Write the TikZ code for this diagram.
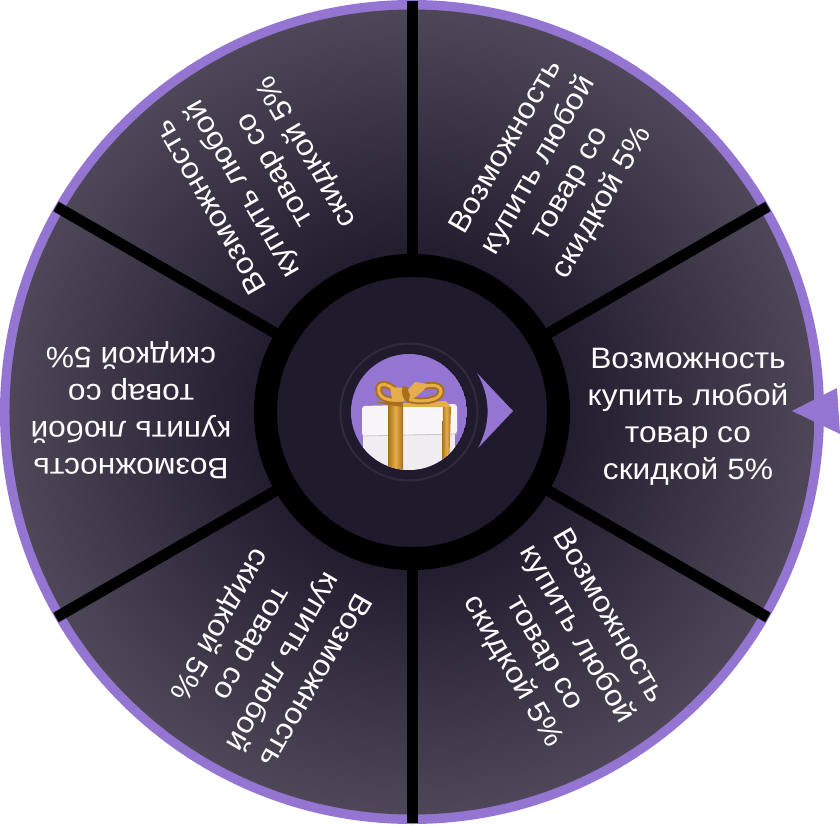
\documentclass[tikz,border=0pt]{standalone}
\usepackage{fontspec}
\usepackage{xcolor}
\setmainfont[FakeStretch=1.075]{Liberation Sans}
\definecolor{wheelpurple}{HTML}{9575D2}
\definecolor{wheeldark}{HTML}{1F1A2C}
\definecolor{wheelrim}{HTML}{4E4758}
\definecolor{hubring}{HTML}{2F2B3C}
\definecolor{giftwhite}{HTML}{F8F6F8}
\definecolor{giftside}{HTML}{EFEDF0}
\definecolor{giftseam}{HTML}{C9C5CC}
\definecolor{golddark}{HTML}{A96F1A}
\definecolor{goldlight}{HTML}{E5AE4A}
\pgfdeclareradialshading{wheelshade}{\pgfpoint{0bp}{0bp}}{color(0bp)=(wheeldark); color(9bp)=(wheeldark); color(25bp)=(wheelrim); color(50bp)=(wheelrim)}
\tikzset{
  sectortext/.style={text=white, align=center, inner sep=0pt, font=\fontsize{29.5}{37}\selectfont},
  spoke/.style={draw=black, line width=11pt},
  ribbon/.style={left color=golddark, right color=golddark, middle color=goldlight, draw=none},
  bowdark/.style={draw=golddark, line width=7pt},
  bowlight/.style={draw=goldlight, line width=3pt}
}

\begin{document}
\begin{tikzpicture}[x=1pt, y=1pt]
  \useasboundingbox (-412, -412) rectangle (428, 412);
  \fill [wheelpurple] (0, 0) circle (412);
  \shade [shading=wheelshade] (0, 0) circle (402.5);
  \coordinate (hub) at (0, 0);
  \foreach \ang in {30, 90, 150, 210, 270, 330} {
    \coordinate (rim\ang) at (\ang:411);
    \draw [spoke] (hub) -- (rim\ang);
  }
  \draw [black, line width=23pt, fill=wheeldark] (hub) circle (146.5);
  \foreach \ang/\xpos/\ypos in {0/276/-5, 60/143/237, 120/-152/233, 180/-281/2, 240/-146/-240, 300/148/-232} {
    \node [sectortext, rotate=\ang] (label\ang) at (\xpos, \ypos)
      {Возможность\\купить любой\\товар со\\скидкой 5\%};
  }
  \draw [hubring, line width=2pt] (-3, 0) circle (68.5);
  \begin{scope}
    \clip (-3, 0) circle (58);
    \fill [wheelpurple] (-3, 0) circle (58);
    \fill [giftside] (-49, -20) rectangle (43, -60);
    \fill [giftwhite, rounded corners=3pt] (-50, 6) -- (-9, 7) -- (45, 8) -- (45, -22) -- (-50, -24) -- cycle;
    \draw [giftseam, line width=.8pt] (-50, -24) -- (45, -22);
    \shade [ribbon] (-24, 7) -- (-9, 7) -- (-9, -60) -- (-24, -60) -- cycle;
    \shade [ribbon] (31, 8) -- (39, 5) -- (37, -60) -- (30, -60) -- cycle;
    \fill [golddark] (-37, 10) -- (-9, 9) -- (-9, 5) -- (-24, 7) -- cycle;
    \fill [goldlight] (-9, 9) -- (34, 11) -- (39, 5) -- (-9, 5) -- cycle;
    \draw [bowdark] (-9, 12) .. controls (-20, 30) and (-36, 32) .. (-33, 20) .. controls (-31, 12) and (-20, 11) .. (-9, 12);
    \draw [bowlight] (-9, 12) .. controls (-20, 30) and (-36, 32) .. (-33, 20) .. controls (-31, 12) and (-20, 11) .. (-9, 12);
    \draw [bowdark] (-4, 13) .. controls (8, 30) and (30, 30) .. (29, 20) .. controls (28, 11) and (8, 9) .. (-4, 13);
    \draw [bowlight] (-4, 13) .. controls (8, 30) and (30, 30) .. (29, 20) .. controls (28, 11) and (8, 9) .. (-4, 13);
    \fill [goldlight] (-22, 25) -- (-8, 24) -- (-5, 11) -- (-20, 13) -- cycle;
    \fill [golddark] (-9, 26) .. controls (-3, 27) and (0, 20) .. (-4, 9) .. controls (-9, 12) and (-12, 20) .. (-9, 26);
    \fill [goldlight] (-4, 22) -- (3, 30) -- (16, 28) -- (12, 22) -- (0, 12) -- cycle;
  \end{scope}
  \fill [wheelpurple] (65, 39) -- (101, 1) -- (66, -36) .. controls (79, -12) and (79, 15) .. (65, 39) -- cycle;
  \fill [wheelpurple] (380, 1) -- (425, 24) -- (428, -22) -- cycle;
\end{tikzpicture}
\end{document}
